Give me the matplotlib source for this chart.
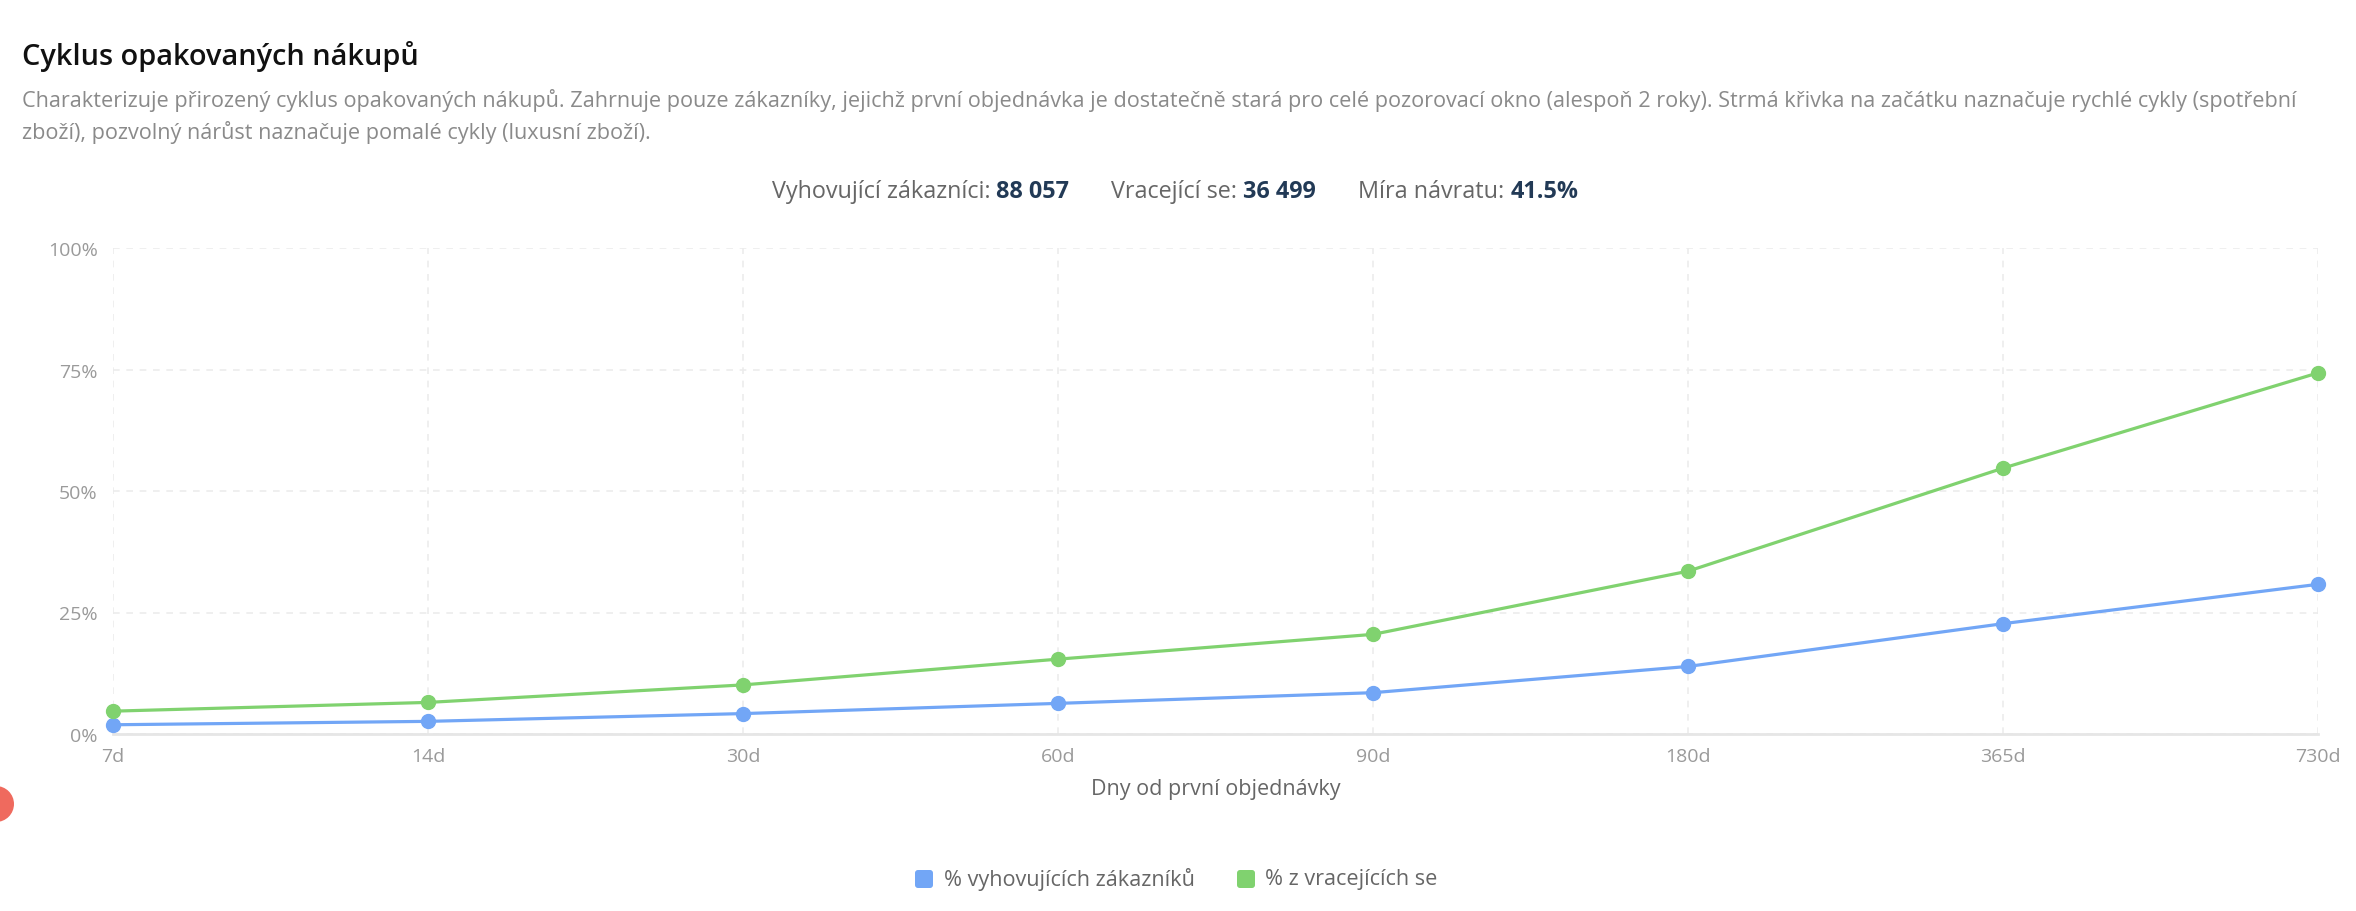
import matplotlib
matplotlib.use('Agg')
import matplotlib.pyplot as plt
from matplotlib.patches import FancyBboxPatch, Circle
from matplotlib.transforms import IdentityTransform

# data
days = ['7d', '14d', '30d', '60d', '90d', '180d', '365d', '730d']
pct_qualifying = [1.9, 2.6, 4.2, 6.3, 8.5, 13.9, 22.7, 30.8]
pct_returning = [4.7, 6.5, 10.1, 15.4, 20.5, 33.5, 54.7, 74.3]
y_ticks = [0, 25, 50, 75, 100]
series_labels = ['% vyhovujících zákazníků', '% z vracejících se']
stat_labels = ['Vyhovující zákazníci: ', 'Vracející se: ', 'Míra návratu: ']
stat_values = ['88 057', '36 499', '41.5%']

title = 'Cyklus opakovaných nákupů'
subtitle = ('Charakterizuje přirozený cyklus opakovaných nákupů. Zahrnuje pouze zákazníky, jejichž první objednávka '
            'je dostatečně stará pro celé pozorovací okno (alespoň 2 roky). Strmá křivka na začátku naznačuje rychlé cykly (spotřební\n'
            'zboží), pozvolný nárůst naznačuje pomalé cykly (luxusní zboží).')
xlabel = 'Dny od první objednávky'

blue = '#72a6f6'
green = '#80d26f'

plt.rcParams['font.family'] = ['Open Sans', 'DejaVu Sans']

W, H = 2356, 912
fig = plt.figure(figsize=(W / 100, H / 100), dpi=100)
fig.patch.set_facecolor('white')

ax = fig.add_axes([113 / W, 1 - 735 / H, (2318 - 113) / W, (735 - 249) / H])
x = list(range(len(days)))
ax.plot(x, pct_qualifying, color=blue, lw=2.3, marker='o', ms=10, clip_on=False, zorder=4)
ax.plot(x, pct_returning, color=green, lw=2.3, marker='o', ms=10, clip_on=False, zorder=4)

ax.set_xlim(0, len(days) - 1)
ax.set_ylim(0, 100)
ax.set_xticks(x)
ax.set_xticklabels(days)
ax.set_yticks(y_ticks)
ax.set_yticklabels([f'{v}%' for v in y_ticks])
ax.grid(True, color='#ececec', linestyle=(0, (4, 4)), lw=1.2)
for s in ['top', 'right', 'left']:
    ax.spines[s].set_visible(False)
ax.spines['bottom'].set_color('#e6e6e6')
ax.spines['bottom'].set_linewidth(2)
ax.tick_params(axis='both', length=0, colors='#9a9a9a', labelsize=14)
ax.tick_params(axis='y', pad=11)
ax.tick_params(axis='x', pad=9)

# header texts
fig.text(22 / W, 1 - 56 / H, title, fontsize=20.8, fontweight='semibold', color='#111111', va='center', ha='left')
fig.text(22 / W, 1 - 117 / H, subtitle, fontsize=15.55, color='#8a8a8a', va='center', ha='left', linespacing=1.5)

# stats line, centered
fig.canvas.draw()
renderer = fig.canvas.get_renderer()
pieces = []
for lab, val in zip(stat_labels, stat_values):
    pieces.append((lab, 'normal', '#666666'))
    pieces.append((val, 'bold', '#223a56'))
texts = []
widths = []
for s, w, c in pieces:
    t = fig.text(0, 0, s, fontsize=16.8, fontweight=w, color=c, va='center', ha='left',
                 transform=IdentityTransform())
    texts.append(t)
    widths.append(t.get_window_extent(renderer).width)
gap = 42
total = sum(widths) + gap * (len(stat_labels) - 1)
cur = 1175 - total / 2
for i, t in enumerate(texts):
    t.set_position((cur, H - 192))
    cur += widths[i]
    if i % 2 == 1:
        cur += gap

fig.text(1216 / W, 1 - 790 / H, xlabel, fontsize=15.5, color='#666666', ha='center', va='center')

# legend
leg_y = H - 880
for cx, tx, col, lab in [(924, 944, blue, series_labels[0]), (1246, 1265, green, series_labels[1])]:
    box = FancyBboxPatch((cx - 9, leg_y - 9), 18, 18, boxstyle='round,pad=0,rounding_size=3',
                         facecolor=col, edgecolor='none', transform=IdentityTransform())
    fig.patches.append(box)
    fig.text(tx, leg_y, lab, fontsize=15.6, color='#666666', va='center', ha='left',
             transform=IdentityTransform())

# floating button edge from the screenshot
fig.patches.append(Circle((-4, H - 805), 18, facecolor='#ef6a5e', edgecolor='none',
                          transform=IdentityTransform()))

fig.savefig('out.png', dpi=100)
